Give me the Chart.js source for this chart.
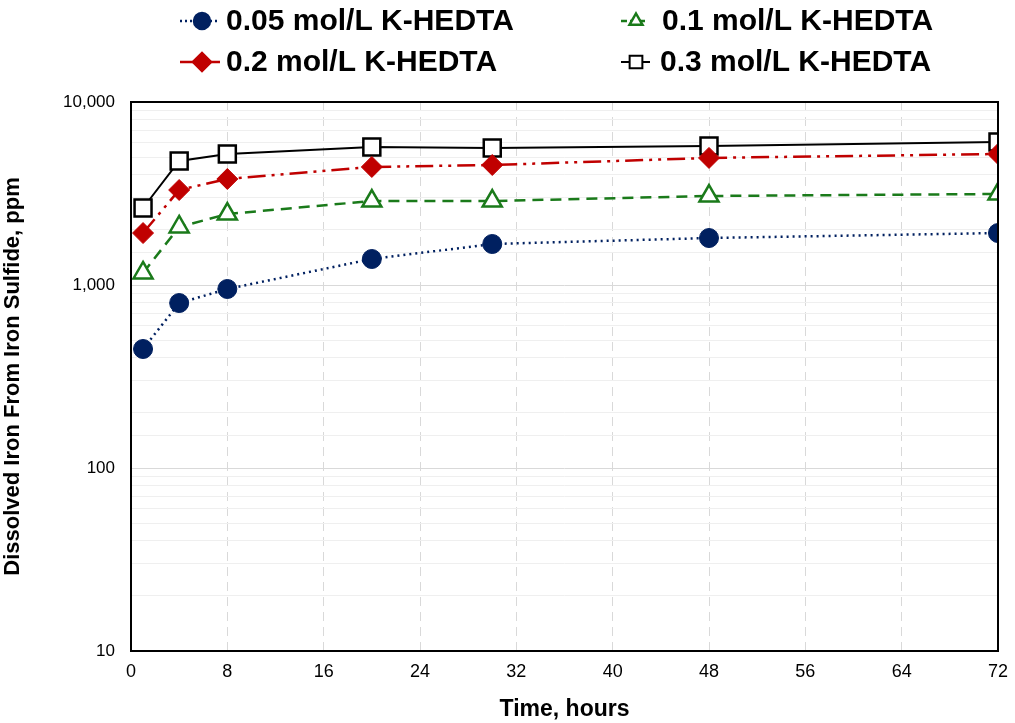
<!DOCTYPE html>
<html>
<head>
<meta charset="utf-8">
<script src="https://cdn.jsdelivr.net/npm/chart.js"></script>
<style>
  body { margin: 0; background: #fff; }
  #wrap { width: 1015px; height: 723px; }
</style>
</head>
<body>
<div id="wrap"><canvas id="ironChart" width="1015" height="723"></canvas></div>
<script>
// time points, hours
var hours = [1, 4, 8, 20, 30, 48, 72];
// dissolved iron, ppm
var iron005 = [447, 797, 951, 1387, 1675, 1806, 1923];
var iron01 = [1164, 2075, 2443, 2877, 2877, 3064, 3142];
var iron02 = [1923, 3305, 3795, 4416, 4527, 4947, 5200];
var iron03 = [2635, 4761, 5200, 5680, 5610, 5750, 6040];
var seriesNames = ["0.05 mol/L K-HEDTA", "0.1 mol/L K-HEDTA", "0.2 mol/L K-HEDTA", "0.3 mol/L K-HEDTA"];
var xTicks = [0, 8, 16, 24, 32, 40, 48, 56, 64, 72];
var yTicks = [10, 100, 1000, 10000];

function pts(vals) {
  return hours.map(function (h, i) { return { x: h, y: vals[i] }; });
}

var FONT = "'Liberation Sans', Arial, sans-serif";

// plot border + legend drawn by hand (2x2 grid like the original)
var framePlugin = {
  id: 'frame',
  afterDatasetsDraw: function (chart) {
    var a = chart.chartArea, ctx = chart.ctx;
    ctx.save();
    ctx.strokeStyle = '#000';
    ctx.lineWidth = 2;
    ctx.strokeRect(a.left, a.top, a.right - a.left, a.bottom - a.top);
    ctx.restore();
  },
  afterDraw: function (chart) {
    var ctx = chart.ctx;
    var spots = [
      { x1: 180, x2: 220, mx: 202, tx: 226, y: 21, r: 8 },
      { x1: 621, x2: 646, mx: 636, tx: 662, y: 21, r: 7.5 },
      { x1: 180, x2: 220, mx: 202, tx: 226, y: 62, r: 9 },
      { x1: 621, x2: 650, mx: 636, tx: 660, y: 62, r: 9 }
    ];
    chart.data.datasets.forEach(function (ds, i) {
      var s = spots[i];
      ctx.save();
      ctx.strokeStyle = ds.borderColor;
      ctx.lineWidth = ds.borderWidth;
      ctx.setLineDash(i == 0 ? [2, 3] : (i == 1 ? [6, 3] : []));
      ctx.beginPath();
      ctx.moveTo(s.x1, s.y);
      ctx.lineTo(s.x2, s.y);
      ctx.stroke();
      ctx.setLineDash([]);
      ctx.fillStyle = ds.pointBackgroundColor;
      ctx.strokeStyle = ds.pointBorderColor;
      Chart.helpers.drawPoint(ctx, {
        pointStyle: ds.pointStyle,
        radius: s.r,
        rotation: 0,
        borderWidth: ds.pointBorderWidth
      }, s.mx, s.y);
      ctx.fillStyle = '#000';
      ctx.font = 'bold 30px ' + FONT;
      ctx.textBaseline = 'middle';
      ctx.fillText(ds.label, s.tx, s.y + 1);
      ctx.restore();
    });
  }
};

new Chart(document.getElementById('ironChart'), {
  type: 'line',
  data: {
    datasets: [{
      label: seriesNames[0],
      data: pts(iron005),
      borderColor: '#002060',
      borderWidth: 2.5,
      borderDash: [2, 4],
      pointStyle: 'circle',
      pointRadius: 9.5,
      pointBackgroundColor: '#002060',
      pointBorderColor: '#002060',
      pointBorderWidth: 1
    }, {
      label: seriesNames[1],
      data: pts(iron01),
      borderColor: '#1a7a1a',
      borderWidth: 2.5,
      borderDash: [11, 7],
      pointStyle: 'triangle',
      pointRadius: 11,
      pointBackgroundColor: '#fff',
      pointBorderColor: '#1a7a1a',
      pointBorderWidth: 2.5
    }, {
      label: seriesNames[2],
      data: pts(iron02),
      borderColor: '#c00000',
      borderWidth: 2.5,
      borderDash: [18, 6, 3, 6, 3, 6],
      pointStyle: 'rectRot',
      pointRadius: 10.5,
      pointBackgroundColor: '#c00000',
      pointBorderColor: '#c00000',
      pointBorderWidth: 1
    }, {
      label: seriesNames[3],
      data: pts(iron03),
      borderColor: '#000',
      borderWidth: 2,
      pointStyle: 'rect',
      pointRadius: 12,
      pointBackgroundColor: '#fff',
      pointBorderColor: '#000',
      pointBorderWidth: 2.5
    }]
  },
  options: {
    responsive: false,
    animation: false,
    layout: { padding: { top: 102, right: 17, left: 0, bottom: 0 } },
    plugins: {
      legend: { display: false },
      tooltip: { enabled: false }
    },
    scales: {
      x: {
        type: 'linear',
        min: xTicks[0],
        max: xTicks[xTicks.length - 1],
        afterBuildTicks: function (axis) {
          axis.ticks = xTicks.map(function (v) { return { value: v }; });
        },
        afterFit: function (axis) {
          axis.height = 72;
          axis.paddingRight = 0;
        },
        grid: { color: '#d9d9d9', lineWidth: 1, drawTicks: false },
        border: { display: false, dash: [9, 6] },
        ticks: { color: '#000', font: { family: FONT, size: 18 }, padding: 10 },
        title: {
          display: true,
          text: 'Time, hours',
          color: '#000',
          font: { family: FONT, size: 23, weight: 'bold' },
          padding: { top: 2, bottom: 0 }
        }
      },
      y: {
        type: 'logarithmic',
        min: yTicks[0],
        max: yTicks[yTicks.length - 1],
        afterFit: function (axis) { axis.width = 131; },
        grid: {
          drawTicks: false,
          color: function (c) {
            var v = c.tick && c.tick.value;
            if (!v) return '#eeeeee';
            var l = Math.log10(v);
            return Math.abs(l - Math.round(l)) < 1e-9 ? '#d9d9d9' : '#efefef';
          },
          lineWidth: 1
        },
        border: { display: false },
        ticks: {
          autoSkip: false,
          color: '#000',
          font: { family: FONT, size: 17 },
          padding: 16,
          callback: function (v) {
            return yTicks.indexOf(v) >= 0 ? v.toLocaleString('en-US') : '';
          }
        },
        title: {
          display: true,
          text: 'Dissolved Iron From Iron Sulfide, ppm',
          color: '#000',
          font: { family: FONT, size: 22, weight: 'bold' },
          padding: { top: 0, bottom: 6 }
        }
      }
    }
  },
  plugins: [framePlugin]
});
</script>
</body>
</html>
